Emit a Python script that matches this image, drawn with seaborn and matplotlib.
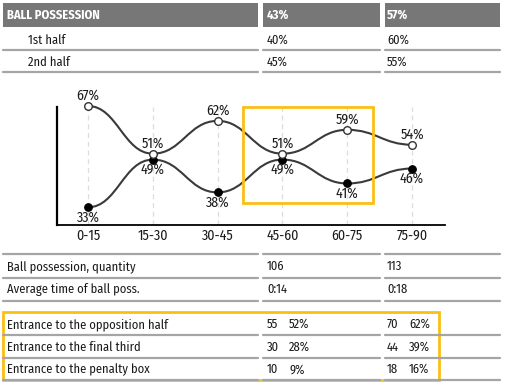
import matplotlib
matplotlib.use("Agg")
import matplotlib.pyplot as plt
import seaborn as sns
import pandas as pd
from matplotlib.path import Path
from matplotlib.patches import PathPatch, Rectangle
from matplotlib.lines import Line2D

# ---- data ----
periods = ["0-15", "15-30", "30-45", "45-60", "60-75", "75-90"]
team_a_poss = [33, 49, 38, 49, 41, 46]   # filled markers (lower line)
team_b_poss = [67, 51, 62, 51, 59, 54]   # open markers (upper line)

header_label = "BALL POSSESSION"
header_values = ["43%", "57%"]
half_labels = ["1st half", "2nd half"]
half_a = ["40%", "45%"]
half_b = ["60%", "55%"]

stat_labels = ["Ball possession, quantity", "Average time of ball poss."]
stat_a = ["106", "0:14"]
stat_b = ["113", "0:18"]

entry_labels = ["Entrance to the opposition half", "Entrance to the final third",
                "Entrance to the penalty box"]
entry_a_count = ["55", "30", "10"]
entry_a_pct = ["52%", "28%", "9%"]
entry_b_count = ["70", "44", "18"]
entry_b_pct = ["62%", "39%", "16%"]

# ---- style ----
sns.set_style("white")
plt.rcParams["font.family"] = ["Fira Sans Condensed", "DejaVu Sans"]

W, H = 505, 387
fig = plt.figure(figsize=(W / 100, H / 100), dpi=100)

def fx(x):
    return x / W

def fy(y):
    return 1 - y / H

TXT = "#1a1a1a"
GRAY_LINE = "#a5a5a5"
YELLOW = "#fbbf14"
FS = 9
FS_CHART = 10

col_spans = [(3, 258), (263, 380), (385, 500)]

def hline(y):
    for x0, x1 in col_spans:
        fig.add_artist(Line2D([fx(x0), fx(x1)], [fy(y), fy(y)], color=GRAY_LINE,
                              lw=1.6, transform=fig.transFigure))

# header
for x0, x1 in col_spans:
    fig.add_artist(Rectangle((fx(x0), fy(27)), fx(x1) - fx(x0), fy(3) - fy(27),
                             color="#777777", transform=fig.transFigure, lw=0))
fig.text(fx(7), fy(15), header_label, color="white", fontweight="bold",
         fontsize=FS, va="center", ha="left")
fig.text(fx(267), fy(15), header_values[0], color="white", fontweight="bold",
         fontsize=FS, va="center", ha="left")
fig.text(fx(387), fy(15), header_values[1], color="white", fontweight="bold",
         fontsize=FS, va="center", ha="left")

for i, (lab, a, b) in enumerate(zip(half_labels, half_a, half_b)):
    y = 40 + i * 22
    fig.text(fx(28), fy(y), lab, color=TXT, fontsize=FS, va="center")
    fig.text(fx(267), fy(y), a, color=TXT, fontsize=FS, va="center")
    fig.text(fx(387), fy(y), b, color=TXT, fontsize=FS, va="center")
    hline(y + 10)

# bottom table
hline(254)
for i, (lab, a, b) in enumerate(zip(stat_labels, stat_a, stat_b)):
    y = 266.5 + i * 23
    fig.text(fx(7), fy(y), lab, color=TXT, fontsize=FS, va="center")
    fig.text(fx(267), fy(y), a, color=TXT, fontsize=FS, va="center")
    fig.text(fx(387), fy(y), b, color=TXT, fontsize=FS, va="center")
    hline(y + 11.5)

for i, lab in enumerate(entry_labels):
    y = 324.5 + i * 22.5
    fig.text(fx(7), fy(y), lab, color=TXT, fontsize=FS, va="center")
    fig.text(fx(267), fy(y), entry_a_count[i], color=TXT, fontsize=FS, va="center")
    fig.text(fx(289), fy(y), entry_a_pct[i], color=TXT, fontsize=FS, va="center")
    fig.text(fx(387), fy(y), entry_b_count[i], color=TXT, fontsize=FS, va="center")
    fig.text(fx(409), fy(y), entry_b_pct[i], color=TXT, fontsize=FS, va="center")
    hline(y + 10.5)

fig.add_artist(Rectangle((fx(3), fy(380)), fx(439) - fx(3), fy(312) - fy(380),
                         fill=False, ec=YELLOW, lw=2, transform=fig.transFigure))

# ---- chart ----
ax = fig.add_axes([fx(57), fy(225), fx(445) - fx(57), fy(107) - fy(225)])
xs = list(range(len(periods)))
ax.set_xlim(-0.478, 5.509)
ax.set_ylim(27.06, 66.66)

for x in xs:
    ax.axvline(x, color="#dddddd", lw=0.9, ls=(0, (4, 3)), zorder=0)

def smooth_path(xv, yv, k=0.45):
    verts = [(xv[0], yv[0])]
    codes = [Path.MOVETO]
    for i in range(len(xv) - 1):
        verts += [(xv[i] + k, yv[i]), (xv[i + 1] - k, yv[i + 1]), (xv[i + 1], yv[i + 1])]
        codes += [Path.CURVE4] * 3
    return Path(verts, codes)

for series in (team_a_poss, team_b_poss):
    ax.add_patch(PathPatch(smooth_path(xs, series), fill=False, ec="#3a3a3a",
                           lw=1.5, zorder=2, clip_on=False))

df = pd.DataFrame({"x": xs * 2, "y": team_a_poss + team_b_poss,
                   "team": ["A"] * len(xs) + ["B"] * len(xs)})
sns.scatterplot(data=df[df.team == "A"], x="x", y="y", ax=ax, color="black",
                edgecolor="black", s=30, linewidth=0.8, zorder=3, clip_on=False)
sns.scatterplot(data=df[df.team == "B"], x="x", y="y", ax=ax, color="white",
                edgecolor="#333333", s=30, linewidth=1.0, zorder=3, clip_on=False)

for x, v in zip(xs, team_b_poss):
    ax.annotate(f"{v}%", (x, v), xytext=(0, 7.5), textcoords="offset points",
                ha="center", va="center", fontsize=FS_CHART, color=TXT, zorder=4,
                annotation_clip=False)
for x, v in zip(xs, team_a_poss):
    ax.annotate(f"{v}%", (x, v), xytext=(0, -7.5), textcoords="offset points",
                ha="center", va="center", fontsize=FS_CHART, color=TXT, zorder=4,
                annotation_clip=False)

ax.set_xticks(xs)
ax.set_xticklabels(periods, fontsize=FS_CHART, color=TXT)
ax.set_yticks([])
ax.tick_params(axis="x", length=0, pad=3)
ax.set_xlabel("")
ax.set_ylabel("")
for s in ("top", "right"):
    ax.spines[s].set_visible(False)
ax.spines["left"].set_linewidth(1.6)
ax.spines["left"].set_color("black")
ax.spines["bottom"].set_linewidth(1.3)
ax.spines["bottom"].set_color("black")
ax.patch.set_alpha(0)

fig.add_artist(Rectangle((fx(243), fy(203)), fx(373) - fx(243), fy(107) - fy(203),
                         fill=False, ec=YELLOW, lw=2, transform=fig.transFigure))

fig.savefig("out.png", dpi=100)
